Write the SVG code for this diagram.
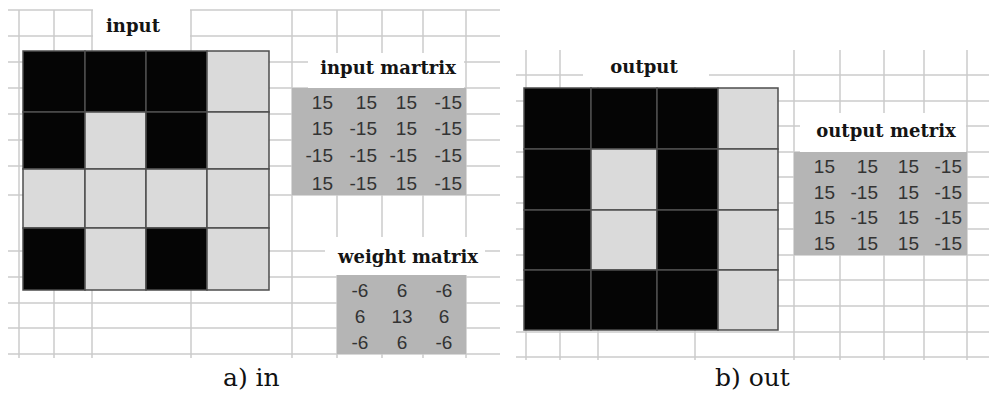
<svg xmlns="http://www.w3.org/2000/svg" width="989" height="396" viewBox="0 0 989 396">
<style>
.g{stroke:#cbcbcb;stroke-width:1.5;fill:none}
.w{fill:#ffffff}
.b{fill:#050505}
.l{fill:#dadada}
.cells rect{stroke:#4d4d4d;stroke-width:1.5}
.mat{fill:#b5b5b5}
.num{font-family:"Liberation Sans",Arial,sans-serif;font-size:19px;fill:#333333}
.ne{text-anchor:end}
.nm{text-anchor:middle}
.ttl{font-family:"DejaVu Serif",serif;font-weight:bold;font-size:18px;fill:#141414;text-anchor:middle}
.cap{font-family:"DejaVu Serif",serif;font-size:25px;fill:#111111}
</style>
<rect width="989" height="396" fill="#ffffff"/>

<g id="panel-in">
  <path class="g" d="M8 10H500M8 36H500M8 62H500M8 88H500M8 114H500M8 140H500M8 166H500M8 195H500M8 251H500M8 277H500M8 303H500M8 328H500M8 354H500M19 10V358M54 10V358M92 10V358M191 10V358M292 10V358M337 10V358M382 10V358M423 10V358M466 10V358"/>
  <rect class="w" x="93" y="3" width="97" height="34"/>
  <rect class="w" x="308" y="53" width="156" height="35"/>
  <rect class="w" x="325" y="237" width="160" height="38"/>

  <g id="input-title"><text class="ttl" x="133" y="32">input</text></g>

  <g id="input-grid" class="cells">
    <rect class="b" x="23" y="51" width="62" height="61"/>
    <rect class="b" x="85" y="51" width="61" height="61"/>
    <rect class="b" x="146" y="51" width="61" height="61"/>
    <rect class="l" x="207" y="51" width="62" height="61"/>
    <rect class="b" x="23" y="112" width="62" height="57"/>
    <rect class="l" x="85" y="112" width="61" height="57"/>
    <rect class="b" x="146" y="112" width="61" height="57"/>
    <rect class="l" x="207" y="112" width="62" height="57"/>
    <rect class="l" x="23" y="169" width="62" height="59"/>
    <rect class="l" x="85" y="169" width="61" height="59"/>
    <rect class="l" x="146" y="169" width="61" height="59"/>
    <rect class="l" x="207" y="169" width="62" height="59"/>
    <rect class="b" x="23" y="228" width="62" height="62"/>
    <rect class="l" x="85" y="228" width="61" height="62"/>
    <rect class="b" x="146" y="228" width="61" height="62"/>
    <rect class="l" x="207" y="228" width="62" height="62"/>
  </g>

  <g id="input-matrix">
    <text class="ttl" x="388" y="74">input martrix</text>
    <rect class="mat" x="292" y="88" width="174" height="107"/>
    <g class="num ne">
      <text x="333" y="109">15</text><text x="377" y="109">15</text><text x="417" y="109">15</text><text x="462" y="109">-15</text>
      <text x="333" y="135">15</text><text x="377" y="135">-15</text><text x="417" y="135">15</text><text x="462" y="135">-15</text>
      <text x="333" y="162">-15</text><text x="377" y="162">-15</text><text x="417" y="162">-15</text><text x="462" y="162">-15</text>
      <text x="333" y="190">15</text><text x="377" y="190">-15</text><text x="417" y="190">15</text><text x="462" y="190">-15</text>
    </g>
  </g>

  <g id="weight-matrix">
    <text class="ttl" x="408" y="263">weight matrix</text>
    <rect class="mat" x="337" y="275" width="129" height="79"/>
    <g class="num nm">
      <text x="360" y="297">-6</text><text x="402" y="297">6</text><text x="444" y="297">-6</text>
      <text x="360" y="323">6</text><text x="402" y="323">13</text><text x="444" y="323">6</text>
      <text x="360" y="349">-6</text><text x="402" y="349">6</text><text x="444" y="349">-6</text>
    </g>
  </g>

  <text id="caption-a" class="cap" x="223" y="386">a) in</text>
</g>

<g id="panel-out">
  <path class="g" d="M516 75H989M516 101H989M516 126H989M516 152H989M516 177H989M516 203H989M516 229H989M516 255H989M516 280H989M516 306H989M516 332H989M516 357H989M526 50V360M560 50V360M598 50V360M695 50V360M794 50V360M840 50V360M884 50V360M924 50V360M967 50V360"/>
  <rect class="w" x="583" y="45" width="126" height="42"/>
  <rect class="w" x="800" y="113" width="166" height="39"/>

  <g id="output-title"><text class="ttl" x="644" y="73">output</text></g>

  <g id="output-grid" class="cells">
    <rect class="b" x="524" y="88" width="67" height="61"/>
    <rect class="b" x="591" y="88" width="66" height="61"/>
    <rect class="b" x="657" y="88" width="61" height="61"/>
    <rect class="l" x="718" y="88" width="60" height="61"/>
    <rect class="b" x="524" y="149" width="67" height="61"/>
    <rect class="l" x="591" y="149" width="66" height="61"/>
    <rect class="b" x="657" y="149" width="61" height="61"/>
    <rect class="l" x="718" y="149" width="60" height="61"/>
    <rect class="b" x="524" y="210" width="67" height="60"/>
    <rect class="l" x="591" y="210" width="66" height="60"/>
    <rect class="b" x="657" y="210" width="61" height="60"/>
    <rect class="l" x="718" y="210" width="60" height="60"/>
    <rect class="b" x="524" y="270" width="67" height="60"/>
    <rect class="b" x="591" y="270" width="66" height="60"/>
    <rect class="b" x="657" y="270" width="61" height="60"/>
    <rect class="l" x="718" y="270" width="60" height="60"/>
  </g>

  <g id="output-matrix">
    <text class="ttl" x="886" y="137">output metrix</text>
    <rect class="mat" x="794" y="152" width="173" height="103"/>
    <g class="num ne">
      <text x="835" y="173">15</text><text x="878" y="173">15</text><text x="919" y="173">15</text><text x="962" y="173">-15</text>
      <text x="835" y="199">15</text><text x="878" y="199">-15</text><text x="919" y="199">15</text><text x="962" y="199">-15</text>
      <text x="835" y="224">15</text><text x="878" y="224">-15</text><text x="919" y="224">15</text><text x="962" y="224">-15</text>
      <text x="835" y="250">15</text><text x="878" y="250">15</text><text x="919" y="250">15</text><text x="962" y="250">-15</text>
    </g>
  </g>

  <text id="caption-b" class="cap" x="715" y="386">b) out</text>
</g>
</svg>
